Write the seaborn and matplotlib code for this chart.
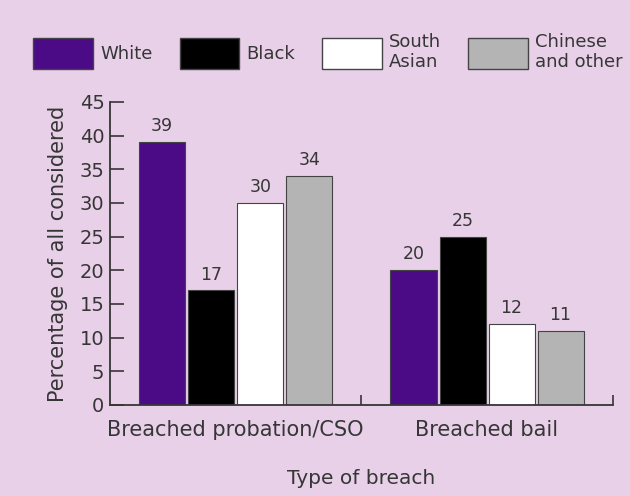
import pandas as pd
import seaborn as sns
import matplotlib.pyplot as plt
from matplotlib.patches import Patch

breaches = ['Breached probation/CSO', 'Breached bail']
groups = ['White', 'Black', 'South Asian', 'Chinese and other']
legend_labels = ['White', 'Black', 'South\nAsian', 'Chinese\nand other']
values = {
    'White': [39, 20],
    'Black': [17, 25],
    'South Asian': [30, 12],
    'Chinese and other': [34, 11],
}
yticks = [0, 5, 10, 15, 20, 25, 30, 35, 40, 45]

colors = ['#4b0a86', '#000000', '#ffffff', '#b4b4b4']
bg = '#e8d0e8'
ink = '#363636'

rows = []
for g in groups:
    for b, v in zip(breaches, values[g]):
        rows.append([b, g, v])
df = pd.DataFrame(rows, columns=['breach', 'group', 'pct'])

sns.set_style('ticks')
plt.rcParams['font.family'] = ['DejaVu Sans']
fig = plt.figure(figsize=(6.3, 4.96), dpi=100, facecolor=bg)
ax = fig.add_axes([0.1746, 0.1835, 0.798, 0.611])
ax.set_facecolor(bg)

sns.barplot(data=df, x='breach', y='pct', hue='group', order=breaches,
            hue_order=groups, palette=colors, saturation=1, width=0.78, gap=0.06,
            edgecolor='#444444', linewidth=0.8, ax=ax, legend=False)

for c in ax.containers:
    ax.bar_label(c, fmt='%d', padding=5, fontsize=12.5, color=ink)

ax.set_ylim(0, 45)
ax.set_xlim(-0.5, 1.5)
ax.set_yticks(yticks)
ax.set_xticks([0, 1])
ax.set_xticklabels(breaches)
ax.set_xticks([0.5, 1.5], minor=True)
ax.tick_params(axis='y', direction='in', length=10, width=1.2, color=ink,
               labelsize=14, labelcolor=ink, pad=4)
ax.tick_params(axis='x', which='major', length=0, labelsize=15, labelcolor=ink, pad=11)
ax.tick_params(axis='x', which='minor', direction='in', length=7, width=1.2, color=ink)
ax.spines[['right', 'top']].set_visible(False)
for s in ['left', 'bottom']:
    ax.spines[s].set_color(ink)
    ax.spines[s].set_linewidth(1.3)
ax.set_ylabel('Percentage of all considered', fontsize=15, color=ink, labelpad=8)
ax.set_xlabel('Type of breach', fontsize=14.5, color=ink, labelpad=21)

handles = [Patch(facecolor=c, edgecolor='#444444', linewidth=1.0) for c in colors]
fig.legend(handles, legend_labels, loc='center left', bbox_to_anchor=(0.027, 0.895),
           ncol=4, frameon=False, fontsize=13, handlelength=3.3, handleheight=2.2,
           handletextpad=0.4, columnspacing=1.5, labelcolor=ink)

plt.savefig('out.png', dpi=100, facecolor=bg)
